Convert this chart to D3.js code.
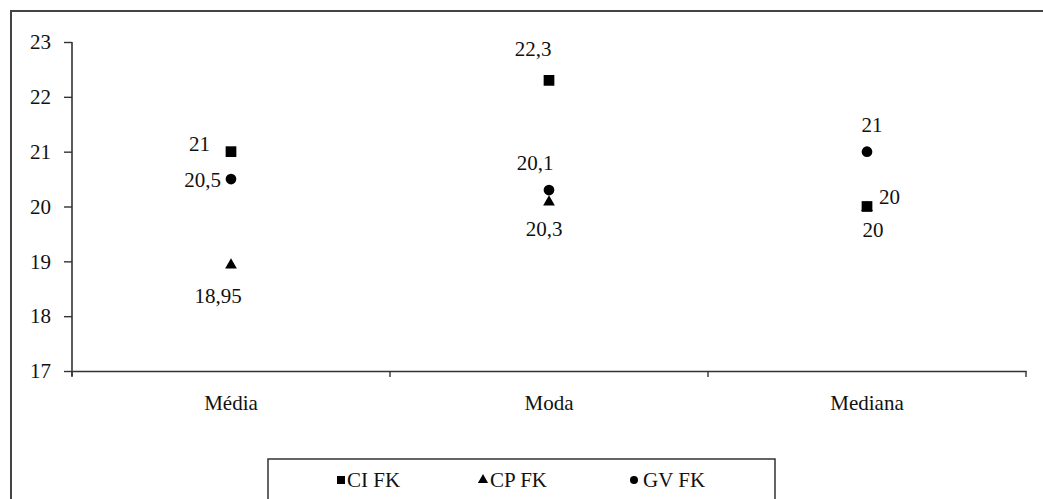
<!DOCTYPE html>
<html><head><meta charset="utf-8">
<script src="https://d3js.org/d3.v7.min.js"></script>
<style>body{margin:0;background:#fff}svg{display:block}text{font-family:"Liberation Serif","Times New Roman",serif;fill:#111}</style>
</head><body>
<script>
const categories = ["Média", "Moda", "Mediana"];
const seriesNames = ["CI FK", "CP FK", "GV FK"];
const ciValues = [21, 22.3, 20];
const cpValues = [18.95, 20.1, 20];
const gvValues = [20.5, 20.3, 21];
const ciLabels = ["21", "22,3", "20"];
const cpLabels = ["18,95", "20,3", "20"];
const gvLabels = ["20,5", "20,1", "21"];
const yTicks = [17, 18, 19, 20, 21, 22, 23];

const W = 1043, H = 499;
const svg = d3.select("body").append("svg").attr("width", W).attr("height", H);
svg.append("path").attr("d", "M11,499V11H1043").attr("fill", "none").attr("stroke", "#444").attr("stroke-width", 2);

const x = d3.scaleBand().domain(categories).range([72, 1026]);
const y = d3.scaleLinear().domain([17, 23]).range([371, 42]);

const fs = 21;
const yAxis = svg.append("g").attr("transform", "translate(72,0)")
  .call(d3.axisLeft(y).tickValues(yTicks).tickSize(8).tickPadding(13).tickFormat(d3.format("d")));
const xAxis = svg.append("g").attr("transform", "translate(0,371)")
  .call(d3.axisBottom(x).tickSize(0).tickPadding(24));
[yAxis, xAxis].forEach(g => {
  g.attr("font-family", null);
  g.selectAll("path.domain").attr("stroke", "#333").attr("stroke-width", 1.6);
  g.selectAll("line").attr("stroke", "#333").attr("stroke-width", 1.4);
  g.selectAll("text").style("font-size", fs + "px").attr("fill", "#111");
});
yAxis.select("path.domain").attr("d", "M0,42V376");
const bounds = categories.map(c => x(c)).concat([x.range()[1]]);
svg.append("g").selectAll("line").data(bounds).join("line")
  .attr("x1", d => d).attr("x2", d => d).attr("y1", 371).attr("y2", 377)
  .attr("stroke", "#333").attr("stroke-width", 1.4);

const cx = c => x(c) + x.bandwidth() / 2;
const symbols = [d3.symbolSquare, d3.symbolTriangle, d3.symbolCircle];
const sizes = [115, 60, 90];
const vals = [ciValues, cpValues, gvValues];
const labs = [ciLabels, cpLabels, gvLabels];
const offs = [
  [[-21, -8, "end"], [-16, -32, "middle"], [12, -10, "start"]],
  [[-13, 32, "middle"], [-5, 28, "middle"], [6, 23, "middle"]],
  [[-10, 1, "end"], [-14, -27, "middle"], [5, -27, "middle"]]
];

[2, 1, 0].forEach(s => {
  svg.append("g").selectAll("path").data(categories).join("path")
    .attr("d", d3.symbol().type(symbols[s]).size(sizes[s]))
    .attr("transform", (c, i) => `translate(${cx(c)},${y(vals[s][i]) + (s === 1 ? 1 : 0)})`)
    .attr("fill", "#000");
});
[0, 1, 2].forEach(s => {
  svg.append("g").selectAll("text").data(categories).join("text")
    .attr("x", (c, i) => cx(c) + offs[s][i][0])
    .attr("y", (c, i) => y(vals[s][i]) + offs[s][i][1])
    .attr("dy", "0.35em")
    .attr("text-anchor", (c, i) => offs[s][i][2])
    .style("font-size", fs + "px")
    .text((c, i) => labs[s][i]);
});

svg.append("path").attr("d", "M268,499V459H775V499").attr("fill", "none").attr("stroke", "#333").attr("stroke-width", 1.5);
const legX = [341, 483, 634];
const lg = svg.append("g").selectAll("g").data(seriesNames).join("g")
  .attr("transform", (d, i) => `translate(${legX[i]},480)`);
lg.append("path").attr("d", (d, i) => d3.symbol().type(symbols[i]).size([64, 45, 50][i])()).attr("fill", "#000");
lg.append("text").attr("x", (d, i) => [6, 7, 9][i]).attr("dy", "0.35em").style("font-size", fs + "px").text(d => d);
</script>
</body></html>
